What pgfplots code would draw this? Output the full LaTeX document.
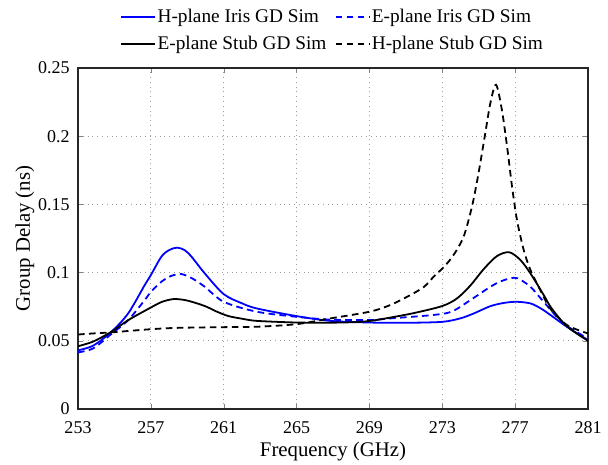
\documentclass[border=0pt]{standalone}
\usepackage{pgfplots}
\pgfplotsset{compat=1.18}
\usepackage{fontspec}
\setmainfont{Liberation Serif}
\begin{document}
\begin{tikzpicture}
\path[use as bounding box] (-39pt,-27.5pt) rectangle (265pt,204.5pt);
\begin{axis}[
  at={(0pt,0pt)}, anchor=south west,
  scale only axis, width=255pt, height=170.5pt,
  xmin=253, xmax=281, ymin=0, ymax=0.25,
  xtick={253,257,...,281},
  xticklabels={\mbox{253},\mbox{257},\mbox{261},\mbox{265},\mbox{269},\mbox{273},\mbox{277},\mbox{281}},
  ytick={0,0.05,...,0.25},
  yticklabels={\mbox{0},\mbox{0.05},\mbox{0.1},\mbox{0.15},\mbox{0.2},\mbox{0.25}},
  tick label style={font=\rmfamily\fontsize{9}{10}\selectfont},
  xticklabel style={yshift=-2.6pt},
  yticklabel style={xshift=-0.6pt},
  tick align=inside, tick pos=both,
  major tick length=2.5pt,
  grid=major,
  major grid style={dotted, gray!75, line width=0.45pt},
  axis line style={line width=0.6pt, black!85},
  xlabel={Frequency (GHz)},
  ylabel={Group Delay (ns)},
  label style={font=\fontsize{10.4}{12}\selectfont},
  xlabel style={at={(axis description cs:0.5,-0.124)}, anchor=center},
  ylabel style={at={(axis description cs:-0.1039,0.5)}, anchor=center},
  legend columns=2,
  legend cell align=left,
  legend image code/.code={\draw[#1, line width=1pt] (0pt,0.25pt) -- (17pt,0.25pt);},
  legend style={draw=none, fill=none, at={(axis description cs:0.4985,1.108)}, anchor=center,
    font=\fontsize{9.65}{11}\selectfont,
    nodes={inner sep=0.6pt, text height=7pt, text depth=2pt},
    row sep=3.1pt,
    /tikz/every even column/.append style={column sep=3.5pt}},
]
\addplot[color=blue, line width=0.9pt, smooth] coordinates {
(253,0.043) (253.84,0.0465) (254.83,0.0566) (255.75,0.070) (256.66,0.0908) (257,0.0982)
(257.58,0.1117) (258.0,0.1165) (258.44,0.1183) (258.85,0.1165) (259.23,0.1117) (259.96,0.0994) (261,0.0842)
(262.0,0.0775) (262.82,0.0737) (265,0.0681) (266.85,0.0646) (269,0.0634) (271,0.0632) (273,0.0639) (274,0.0665)
(274.72,0.070) (275.64,0.0754) (276.4,0.0778) (277.1,0.0786) (277.84,0.0774) (278.4,0.0738) (278.93,0.069)
(279.85,0.0602) (281,0.0505)
};
\addlegendentry{H-plane Iris GD Sim}
\addplot[color=blue, line width=0.9pt, dash pattern=on 3.3pt off 2.2pt, smooth] coordinates {
(253,0.0415) (253.84,0.0445) (254.83,0.055) (255.75,0.0651) (256.66,0.0798) (257,0.0859)
(257.58,0.0933) (258.1,0.0975) (258.68,0.0989) (259.3,0.0955) (259.96,0.0896) (261,0.0786) (262.82,0.0713)
(265,0.0676) (266.85,0.0655) (269,0.0652) (270.14,0.0664) (272.4,0.0688) (273.5,0.0713) (274.54,0.0798)
(275.64,0.0896) (276.2,0.0935) (276.74,0.0958) (277.14,0.0958) (277.84,0.0896) (278.57,0.0785) (279.66,0.0627) (281,0.0517)
};
\addlegendentry{E-plane Iris GD Sim}
\addplot[color=black, line width=0.9pt, smooth] coordinates {
(253,0.046) (253.84,0.0495) (254.83,0.0566) (255.75,0.0651) (257,0.0744) (257.6,0.0785) (258.26,0.0806)
(259.0,0.0795) (259.96,0.0755) (260.6,0.0715) (261.24,0.0682) (262,0.0662) (262.82,0.0646) (265,0.0634) (266.85,0.0633)
(268,0.0636) (269,0.0645) (270.14,0.067) (271.5,0.0705) (273,0.0755) (273.8,0.081) (274.54,0.0905) (275.27,0.1025) (276.0,0.1121)
(276.68,0.1149) (277.29,0.1092) (277.84,0.0994) (278.57,0.0835) (279.0,0.0738) (279.85,0.0605) (281,0.050)
};
\addlegendentry{E-plane Stub GD Sim}
\addplot[color=black, line width=0.9pt, dash pattern=on 3.3pt off 2.2pt, smooth] coordinates {
(253,0.0546) (253.84,0.0554) (254.83,0.0562) (257,0.0585) (258.5,0.0595) (261,0.06)
(262.82,0.0603) (265,0.0622) (266.85,0.0664) (269,0.0713) (270.14,0.0762)
(271.24,0.0835) (272.0,0.0896) (272.52,0.0969) (273.1,0.1043) (273.62,0.1129) (274.17,0.1263) (274.63,0.1484)
(274.99,0.1729) (275.36,0.2022) (275.64,0.2243) (275.95,0.2377) (276.27,0.2194) (276.58,0.19)
(276.83,0.163) (277.1,0.1386) (277.47,0.1166) (277.84,0.1019) (278.38,0.0872) (278.93,0.0735) (279.85,0.0615) (281,0.0554)
};
\addlegendentry{H-plane Stub GD Sim}
\end{axis}
\end{tikzpicture}
\end{document}
